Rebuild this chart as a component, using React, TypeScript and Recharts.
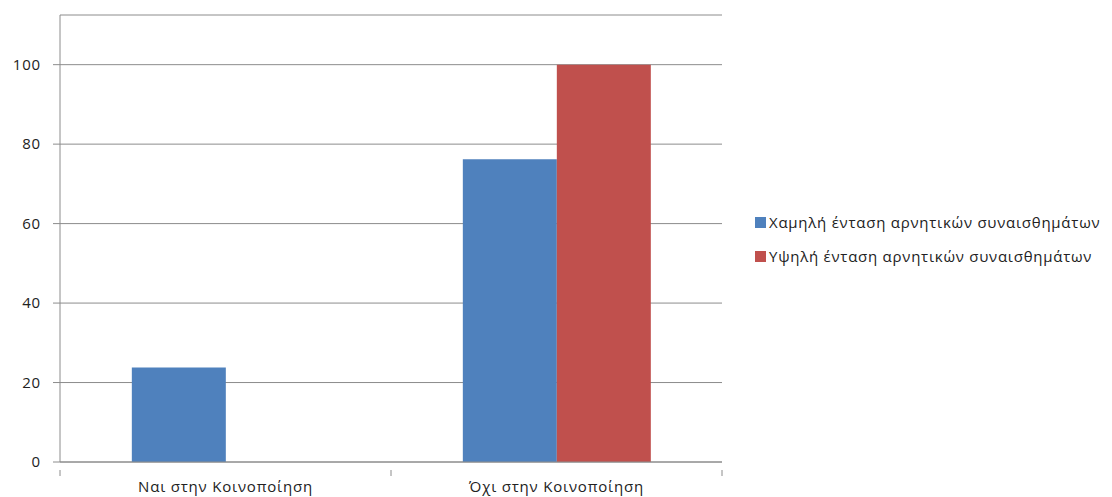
import React from 'react';
import { BarChart, Bar, XAxis, YAxis, CartesianGrid } from 'recharts';

const categories = ['Ναι στην Κοινοποίηση', 'Όχι στην Κοινοποίηση'];
const lowIntensity = [23.8, 76.2];
const highIntensity = [0, 100];
const yTicks = [0, 20, 40, 60, 80, 100];

const SERIES = [
  { key: 'low', name: 'Χαμηλή ένταση αρνητικών συναισθημάτων', color: '#4F81BD' },
  { key: 'high', name: 'Υψηλή ένταση αρνητικών συναισθημάτων', color: '#C0504D' },
];

const FONT = '"Open Sans", "Noto Sans", sans-serif';
const WIDTH = 1112;
const HEIGHT = 497;
const MARGIN = { top: 15, right: 390, bottom: 0, left: 10 };
const Y_AXIS_W = 50;
const AXIS_COLOR = '#8c8c8c';

// width of one category band, used to put tick marks on the band edges
const BAND = (WIDTH - MARGIN.left - MARGIN.right - Y_AXIS_W) / categories.length;

const chartData = categories.map((name, i) => ({
  name,
  low: lowIntensity[i],
  high: highIntensity[i],
}));

function CategoryTick(props: any) {
  const { x, y, payload, index } = props;
  const isLast = index === categories.length - 1;
  return (
    <g>
      <line x1={x - BAND / 2} x2={x - BAND / 2} y1={y} y2={y + 6} stroke={AXIS_COLOR} />
      {isLast && <line x1={x + BAND / 2} x2={x + BAND / 2} y1={y} y2={y + 6} stroke={AXIS_COLOR} />}
      <text
        x={x}
        y={y + 22}
        textAnchor="middle"
        fill="#222"
        fontSize={15}
        fontFamily={FONT}
        letterSpacing={0.8}
      >
        {payload.value}
      </text>
    </g>
  );
}

function SideLegend() {
  return (
    <div
      style={{
        position: 'absolute',
        left: 755,
        top: 205,
        fontFamily: FONT,
        fontSize: 15,
        letterSpacing: 0.75,
        color: '#222',
      }}
    >
      {SERIES.map((s) => (
        <div key={s.key} style={{ display: 'flex', alignItems: 'center', height: 34 }}>
          <div style={{ width: 11, height: 11, background: s.color, marginRight: 3 }} />
          <span style={{ whiteSpace: 'nowrap' }}>{s.name}</span>
        </div>
      ))}
    </div>
  );
}

export default function App() {
  return (
    <div style={{ position: 'fixed', left: 0, top: 0, width: WIDTH, height: HEIGHT, background: '#fff' }}>
      <BarChart
        width={WIDTH}
        height={HEIGHT}
        data={chartData}
        margin={MARGIN}
        barCategoryGap="21.7%"
        barGap={0}
      >
        <CartesianGrid vertical={false} stroke={AXIS_COLOR} strokeWidth={1} />
        <XAxis
          dataKey="name"
          height={35}
          tickLine={false}
          axisLine={{ stroke: AXIS_COLOR }}
          tick={<CategoryTick />}
          interval={0}
        />
        <YAxis
          width={Y_AXIS_W}
          domain={[0, 112.5]}
          ticks={yTicks}
          allowDataOverflow
          axisLine={{ stroke: AXIS_COLOR }}
          tickLine={{ stroke: AXIS_COLOR }}
          tickSize={7}
          tick={{ fill: '#222', fontSize: 15, fontFamily: FONT, letterSpacing: 0.8 }}
          dx={-10}
        />
        {SERIES.map((s) => (
          <Bar key={s.key} dataKey={s.key} name={s.name} fill={s.color} isAnimationActive={false} />
        ))}
      </BarChart>
      <SideLegend />
    </div>
  );
}
